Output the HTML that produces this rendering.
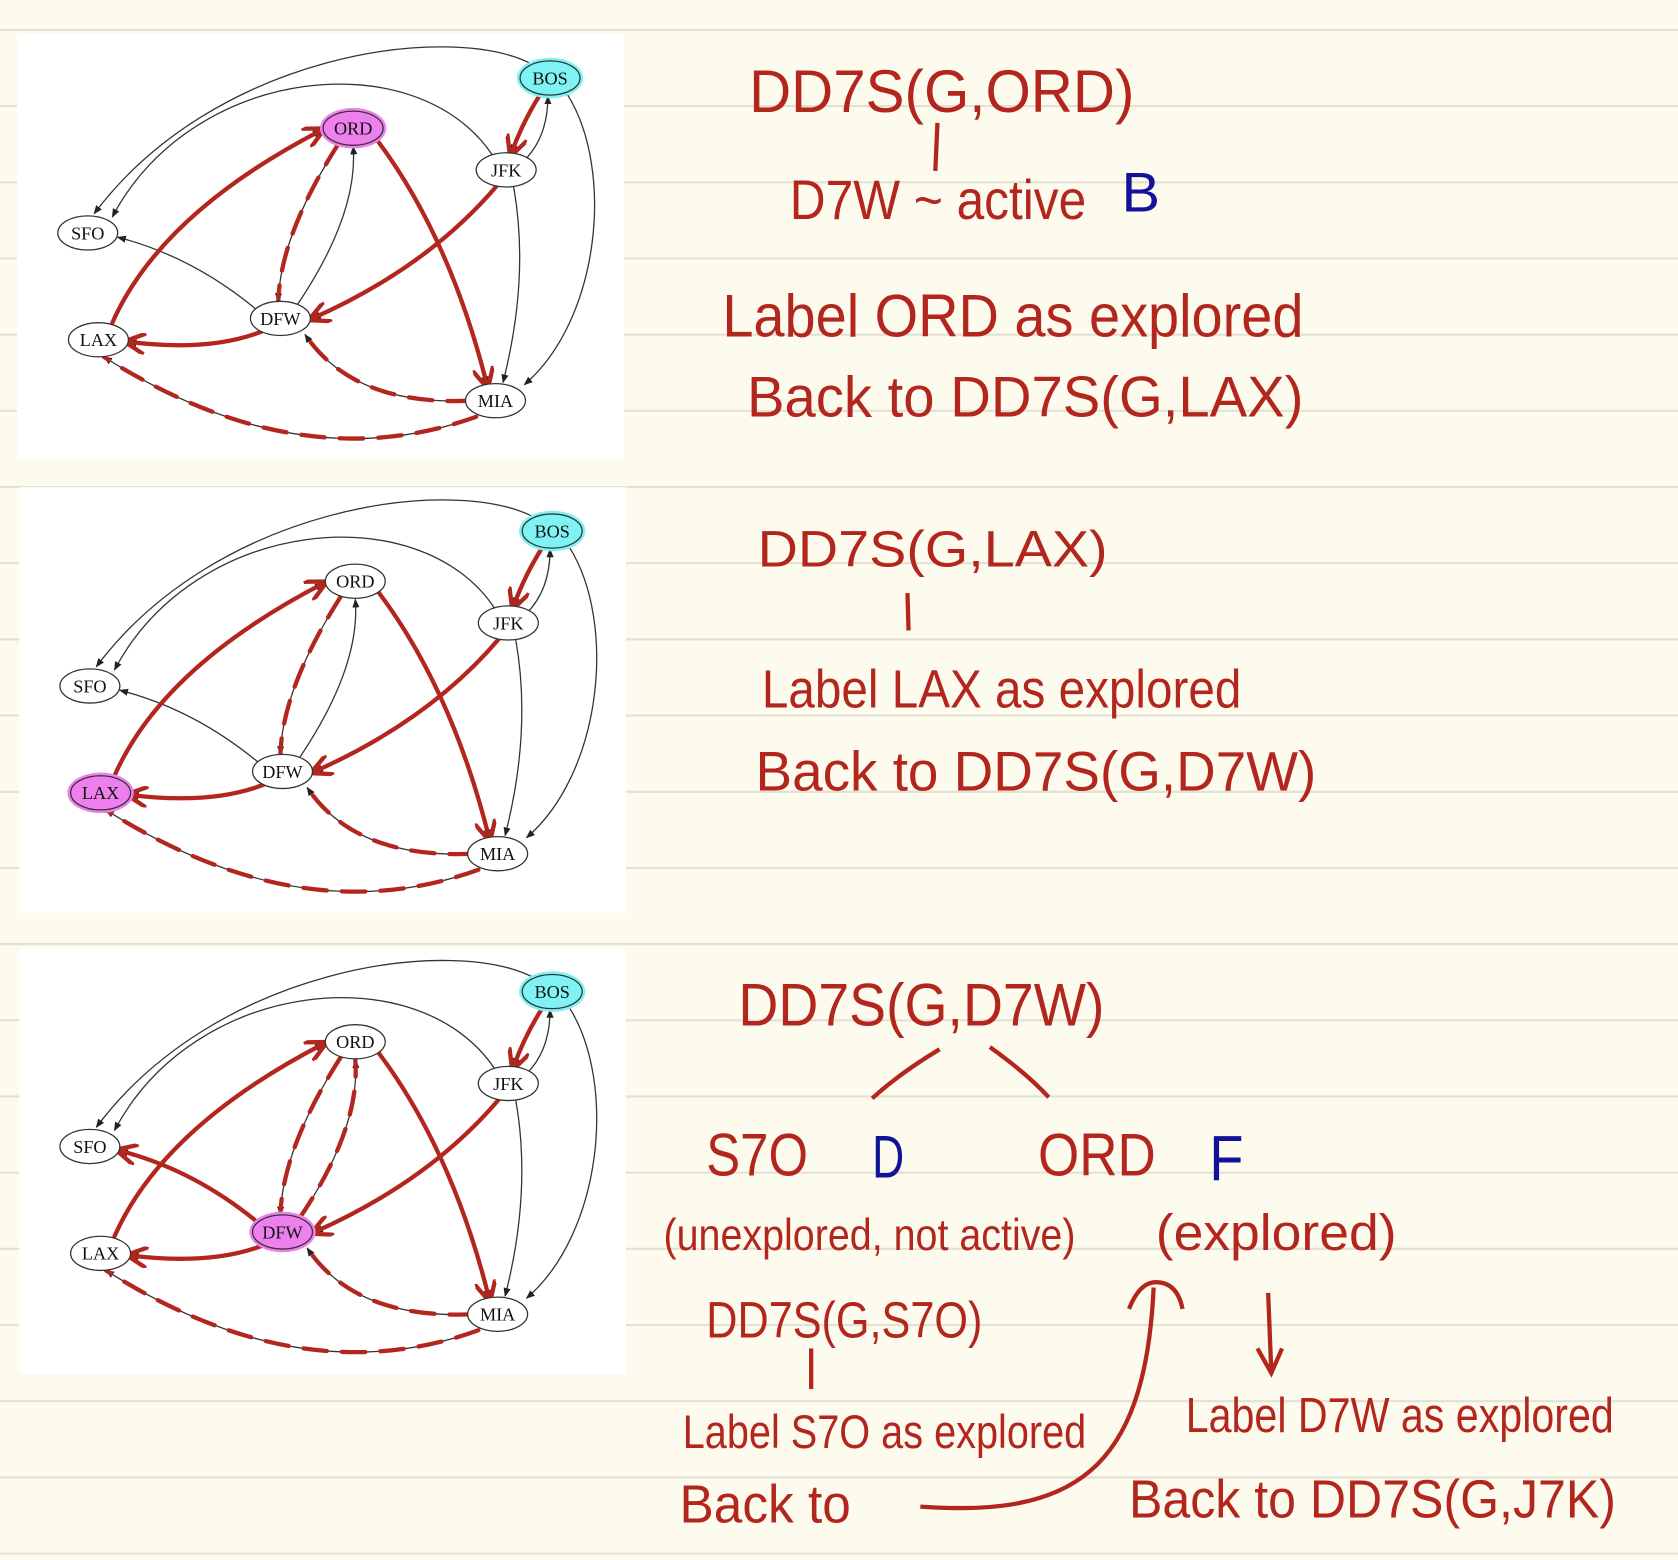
<!DOCTYPE html>
<html><head><meta charset="utf-8"><style>
html,body{margin:0;padding:0;background:#fdfbee}
svg{display:block}
.hw{font-family:"Liberation Sans",sans-serif;fill:#b3261e}
.bl{fill:#12129a}
</style></head><body>
<svg id="root" width="1678" height="1560" viewBox="0 0 1568 1460" preserveAspectRatio="none" xmlns="http://www.w3.org/2000/svg">
<defs>
<marker id="ah" viewBox="0 0 10 10" refX="9" refY="5" markerWidth="7" markerHeight="7" orient="auto-start-reverse"><path d="M0,1 L10,5 L0,9 z" fill="#222"/></marker>
<marker id="rh" viewBox="0 0 10 10" refX="8" refY="5" markerWidth="5" markerHeight="5" orient="auto"><path d="M0,0 L10,5 L0,10" fill="none" stroke="#b3261e" stroke-width="2"/></marker>
</defs>
<rect width="1568" height="1460" fill="#fdfbee"/>
<g id="rules"></g>
<g id="panels"></g>
<g>
<text class="hw" x="700" y="105" font-size="56" textLength="360" lengthAdjust="spacingAndGlyphs">DD7S(G,ORD)</text>
<path d="M876,115 L874,160" stroke="#b3261e" stroke-width="4" fill="none"/>
<text class="hw" x="738" y="205" font-size="52" textLength="277" lengthAdjust="spacingAndGlyphs">D7W ~ active</text>
<text class="hw bl" x="1048" y="198" font-size="52" textLength="36" lengthAdjust="spacingAndGlyphs">B</text>
<text class="hw" x="675" y="315" font-size="56" textLength="543" lengthAdjust="spacingAndGlyphs">Label ORD as explored</text>
<text class="hw" x="698" y="390" font-size="54" textLength="520" lengthAdjust="spacingAndGlyphs">Back to DD7S(G,LAX)</text>
<text class="hw" x="708" y="530" font-size="48" textLength="327" lengthAdjust="spacingAndGlyphs">DD7S(G,LAX)</text>
<path d="M848,555 L849,590" stroke="#b3261e" stroke-width="4" fill="none"/>
<text class="hw" x="712" y="662" font-size="50" textLength="448" lengthAdjust="spacingAndGlyphs">Label LAX as explored</text>
<text class="hw" x="706" y="740" font-size="52" textLength="524" lengthAdjust="spacingAndGlyphs">Back to DD7S(G,D7W)</text>
<text class="hw" x="690" y="960" font-size="56" textLength="342" lengthAdjust="spacingAndGlyphs">DD7S(G,D7W)</text>
<path d="M878,982 Q840,1005 815,1028 M925,980 Q960,1005 980,1027" stroke="#b3261e" stroke-width="4" fill="none"/>
<text class="hw" x="660" y="1100" font-size="56" textLength="95" lengthAdjust="spacingAndGlyphs">S7O</text>
<text class="hw bl" x="815" y="1102" font-size="56" textLength="30" lengthAdjust="spacingAndGlyphs">D</text>
<text class="hw" x="970" y="1100" font-size="56" textLength="110" lengthAdjust="spacingAndGlyphs">ORD</text>
<text class="hw bl" x="1130" y="1105" font-size="60" textLength="32" lengthAdjust="spacingAndGlyphs">F</text>
<text class="hw" x="620" y="1170" font-size="42" textLength="385" lengthAdjust="spacingAndGlyphs">(unexplored, not active)</text>
<text class="hw" x="1080" y="1170" font-size="48" textLength="225" lengthAdjust="spacingAndGlyphs">(explored)</text>
<text class="hw" x="660" y="1252" font-size="48" textLength="258" lengthAdjust="spacingAndGlyphs">DD7S(G,S7O)</text>
<path d="M758,1262 L758,1300" stroke="#b3261e" stroke-width="4" fill="none"/>
<text class="hw" x="638" y="1355" font-size="44" textLength="377" lengthAdjust="spacingAndGlyphs">Label S7O as explored</text>
<text class="hw" x="635" y="1425" font-size="50" textLength="160" lengthAdjust="spacingAndGlyphs">Back to</text>
<path d="M860,1410 C1000,1420 1070,1380 1078,1205 M1055,1225 Q1065,1200 1080,1200 Q1100,1200 1105,1225" stroke="#b3261e" stroke-width="4" fill="none"/>
<path d="M1185,1210 L1188,1285 M1175,1262 L1188,1285 L1198,1262" stroke="#b3261e" stroke-width="4" fill="none"/>
<text class="hw" x="1108" y="1340" font-size="46" textLength="400" lengthAdjust="spacingAndGlyphs">Label D7W as explored</text>
<text class="hw" x="1055" y="1420" font-size="50" textLength="455" lengthAdjust="spacingAndGlyphs">Back to DD7S(G,J7K)</text>
</g>
</svg>
<script>
const NS='http://www.w3.org/2000/svg';
const rules=document.getElementById('rules');
for(let i=0;i<21;i++){const y=28+i*71.3;const l=document.createElementNS(NS,'line');
l.setAttribute('x1',0);l.setAttribute('x2',1568);l.setAttribute('y1',y);l.setAttribute('y2',y);
l.setAttribute('stroke','#e3e1d3');l.setAttribute('stroke-width','2');


rules.appendChild(l);}
const nodes={BOS:[514,73],ORD:[330,120],JFK:[473,159],SFO:[82,218],DFW:[262,298],LAX:[92,318],MIA:[463,375]};
const edges=[
['BOS-SFO','M497,60 C420,20 200,50 88,200',0],
['JFK-SFO','M460,145 C390,40 180,60 105,203',0],
['BOS-JFK','M505,88 Q488,115 478,143',1],
['JFK-BOS','M490,150 Q512,128 512,90',0],
['BOS-MIA','M530,88 C575,160 560,300 490,360',0],
['JFK-MIA','M480,175 Q495,260 470,358',0],
['JFK-DFW','M465,173 Q400,250 292,298',1],
['DFW-SFO','M240,290 Q180,240 110,222',0],
['DFW-ORD','M278,285 Q335,200 330,137',0],
['ORD-DFW','M316,135 Q262,220 260,282',2],
['ORD-MIA','M350,128 Q420,220 455,360',1],
['LAX-ORD','M105,302 Q150,200 300,122',1],
['DFW-LAX','M250,308 Q200,330 120,320',1],
['MIA-DFW','M440,375 Q330,380 285,313',2],
['MIA-LAX','M445,390 Q280,450 97,334',2]];
const panels=[{ox:16,oy:32,dx:0,dy:0,hi:'ORD',extra:[]},{ox:18,oy:456,dx:2,dy:424,hi:'LAX',extra:[]},{ox:18,oy:888,dx:2,dy:855,hi:'DFW',extra:[['DFW-SFO',1],['DFW-ORD',2]]}];
const P=document.getElementById('panels');
panels.forEach((p,pi)=>{
 const g=document.createElementNS(NS,'g');
 
 
 const r=document.createElementNS(NS,'rect');r.setAttribute('x',p.ox);r.setAttribute('y',p.oy);r.setAttribute('width',567);r.setAttribute('height',398);r.setAttribute('fill','#fff');g.appendChild(r);
 const t=document.createElementNS(NS,'g');t.setAttribute('transform',`translate(${p.dx},${p.dy})`);g.appendChild(t);
 edges.forEach(e=>{
  const pa=document.createElementNS(NS,'path');pa.setAttribute('d',e[1]);pa.setAttribute('fill','none');pa.setAttribute('stroke','#333');pa.setAttribute('stroke-width','1.2');pa.setAttribute('marker-end','url(#ah)');
  
  
  t.appendChild(pa);
  let red=e[2];const ex=p.extra.find(x=>x[0]===e[0]);if(ex)red=ex[1];
  if(red){const rp=document.createElementNS(NS,'path');rp.setAttribute('d',e[1]);rp.setAttribute('fill','none');rp.setAttribute('stroke','#b3261e');rp.setAttribute('stroke-width','4');rp.setAttribute('stroke-linecap','round');
   if(red===2)rp.setAttribute('stroke-dasharray','22 14');else rp.setAttribute('marker-end','url(#rh)');
   
   
   t.appendChild(rp);}
 });
 Object.entries(nodes).forEach(([k,c])=>{
  const ng=document.createElementNS(NS,'g');
  
  
  const fill=k==='BOS'?'#7ff3f3':(k===p.hi?'#ee80ee':'#fff');
  if(fill!=='#fff'){const h=document.createElementNS(NS,'ellipse');h.setAttribute('cx',c[0]);h.setAttribute('cy',c[1]);h.setAttribute('rx',31);h.setAttribute('ry',19);h.setAttribute('fill',fill);ng.appendChild(h);}
  const el=document.createElementNS(NS,'ellipse');el.setAttribute('cx',c[0]);el.setAttribute('cy',c[1]);el.setAttribute('rx',28);el.setAttribute('ry',16);el.setAttribute('fill',fill);el.setAttribute('stroke','#333');el.setAttribute('stroke-width','1.2');ng.appendChild(el);
  const tx=document.createElementNS(NS,'text');tx.setAttribute('x',c[0]);tx.setAttribute('y',c[1]+6);tx.setAttribute('text-anchor','middle');tx.setAttribute('font-family','Liberation Serif, serif');tx.setAttribute('font-size','17');tx.setAttribute('fill','#111');tx.textContent=k;ng.appendChild(tx);
  t.appendChild(ng);
 });
 P.appendChild(g);
});
</script>
</body></html>
